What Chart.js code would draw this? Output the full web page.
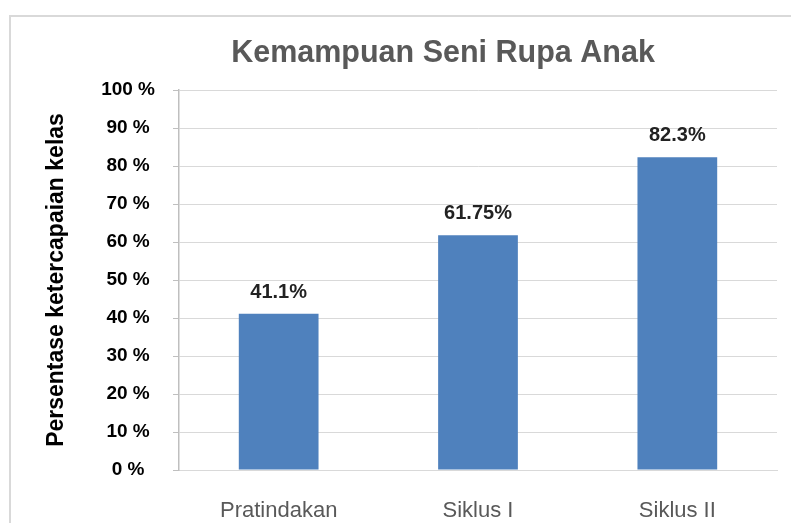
<!DOCTYPE html>
<html>
<head>
<meta charset="utf-8">
<script src="https://cdn.jsdelivr.net/npm/chart.js@4"></script>
<style>
  html, body { margin: 0; padding: 0; background: #fff; overflow: hidden; }
  #frame {
    position: absolute; left: 9px; top: 15px;
    width: 864px; height: 540px;
    border: 2px solid #d9d9d9;
  }
</style>
</head>
<body>
<div id="frame"><canvas id="myChart" width="864" height="540"></canvas></div>
<script>
const chartTitle = 'Kemampuan Seni Rupa Anak';
const categories = ['Pratindakan', 'Siklus I', 'Siklus II'];
const values = [41.1, 61.75, 82.3];
const yTicks = [0, 10, 20, 30, 40, 50, 60, 70, 80, 90, 100];

const FONT = "'Liberation Sans', Arial, sans-serif";

// title centred on the whole frame, not on the plot
const frameTitle = {
    id: 'frameTitle',
    afterDraw(chart) {
        const ctx = chart.ctx;
        ctx.save();
        ctx.font = 'bold 30.5px ' + FONT;
        ctx.fillStyle = '#595959';
        ctx.textAlign = 'center';
        ctx.textBaseline = 'middle';
        ctx.fillText(chartTitle, chart.width / 2, 37);
        ctx.restore();
    }
};

// labels above the bars
const barLabels = {
    id: 'barLabels',
    afterDatasetsDraw(chart) {
        const ctx = chart.ctx;
        const meta = chart.getDatasetMeta(0);
        ctx.save();
        ctx.font = 'bold 20px ' + FONT;
        ctx.fillStyle = '#222';
        ctx.textAlign = 'center';
        ctx.textBaseline = 'alphabetic';
        meta.data.forEach((bar, i) => {
            ctx.fillText(values[i] + '%', bar.x, bar.y - 16);
        });
        ctx.restore();
    }
};

document.addEventListener("DOMContentLoaded", () => {
    displayChart();
})

function displayChart() {
    var ctx = document.getElementById('myChart');
    new Chart(ctx, {
        type: 'bar',
        data: {
            labels: categories,
            datasets: [{
                data: values,
                backgroundColor: '#4f81bd',
                borderWidth: 0,
                barPercentage: 0.4,
                categoryPercentage: 1
            }]
        },
        options: {
            responsive: false,
            animation: false,
            layout: { padding: { left: 0, right: 98, top: 73, bottom: 0 } },
            plugins: {
                legend: { display: false },
                tooltip: { enabled: false },
                title: { display: false }
            },
            scales: {
                x: {
                    grid: { display: false },
                    border: { color: '#d9d9d9', width: 1 },
                    ticks: {
                        color: '#595959',
                        font: { family: FONT, size: 22 },
                        padding: 20
                    },
                    afterFit(scale) { scale.height = 87; }
                },
                y: {
                    min: 0,
                    max: 100,
                    afterBuildTicks(scale) {
                        scale.ticks = yTicks.map(v => ({ value: v }));
                    },
                    grid: { color: '#d9d9d9', tickColor: '#bfbfbf', tickLength: 6 },
                    border: { color: '#bfbfbf', width: 1.5 },
                    ticks: {
                        color: '#000',
                        crossAlign: 'center',
                        padding: 18,
                        font: { family: FONT, size: 19, weight: 'bold' },
                        callback: v => v + ' %'
                    },
                    title: {
                        display: true,
                        text: 'Persentase ketercapaian kelas',
                        color: '#000',
                        font: { family: FONT, size: 23, weight: 'bold' },
                        padding: { top: 32, bottom: 0 }
                    },
                    afterFit(scale) { scale.width = 168; }
                }
            }
        },
        plugins: [barLabels, frameTitle]
    });
}
</script>
</body>
</html>
